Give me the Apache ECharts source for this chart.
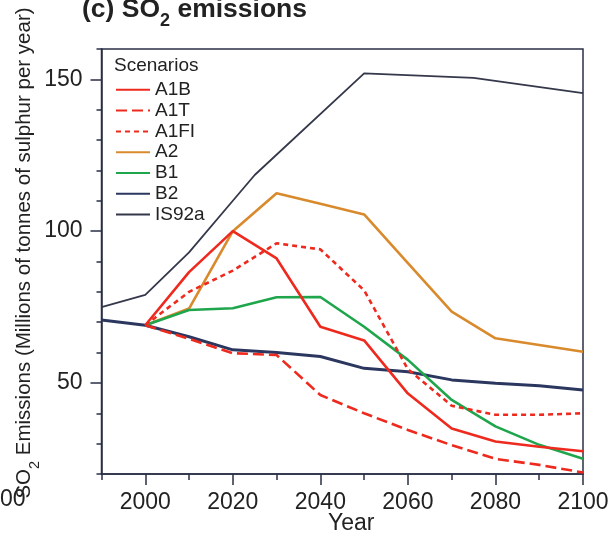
<!DOCTYPE html>
<html>
<head>
<meta charset="utf-8">
<script src="https://cdn.jsdelivr.net/npm/echarts@6/dist/echarts.min.js"></script>
<style>
html,body{margin:0;padding:0;background:#fff;}
#chart{width:613px;height:535px;}
</style>
</head>
<body>
<div id="chart"></div>
<script>
// ---- data ----
var scenarioNames = ['A1B', 'A1T', 'A1FI', 'A2', 'B1', 'B2', 'IS92a'];
var yearsSRES = [2000, 2010, 2020, 2030, 2040, 2050, 2060, 2070, 2080, 2090, 2100];
var yearsB2 = [1990, 2000, 2010, 2020, 2030, 2040, 2050, 2060, 2070, 2080, 2090, 2100];
var yearsIS92a = [1990, 2000, 2010, 2020, 2025, 2050, 2075, 2100];

var valA1B  = [69, 86.5, 100, 91, 68.5, 64, 46.5, 35, 30.7, 29, 27.5];
var valA1T  = [69, 64.5, 59.8, 59.2, 46, 40, 34.5, 29.5, 25, 23, 20.5];
var valA1FI = [69, 80, 87, 96, 94, 80.5, 54.5, 42.5, 39.5, 39.5, 40];
var valA2   = [69, 74.5, 100, 112.5, 109, 105.5, 89.5, 73.5, 64.7, 62.5, 60.3];
var valB1   = [69, 74, 74.6, 78.2, 78.3, 68.5, 57.6, 44.4, 35.7, 29.6, 25];
var valB2   = [70.7, 69, 65.2, 60.9, 60, 58.7, 54.8, 53.7, 51, 49.9, 49.1, 47.7];
var valIS92a = [75, 79, 93, 110, 118.5, 152, 150.5, 145.5];

var xMajorTicks = [2000, 2020, 2040, 2060, 2080, 2100];
var yMajorTicks = [50, 100, 150];

function zip(xs, ys) { return xs.map(function (x, i) { return [x, ys[i]]; }); }

var RED = '#ee2a1f', ORANGE = '#d88a2c', GREEN = '#1fa64c', NAVY = '#2c3760', DARK = '#34384a';
var AXIS = '#2a2f45';
var FONT = 'Liberation Sans, Arial, sans-serif';

function line(name, xs, ys, color, width, type) {
  return {
    name: name, type: 'line', data: zip(xs, ys), symbol: 'none',
    lineStyle: { color: color, width: width, type: type || 'solid' },
    itemStyle: { color: color }
  };
}

var chart = echarts.init(document.getElementById('chart'), null, { renderer: 'canvas' });
chart.setOption({
  animation: false,
  backgroundColor: '#fff',
  textStyle: { fontFamily: FONT },
  grid: { left: 101.5, right: 30, top: 49, bottom: 61, show: true, borderColor: AXIS, borderWidth: 1.5, outerBoundsMode: 'none', containLabel: false },
  xAxis: [{
    type: 'value', min: 1990, max: 2100, interval: 10, position: 'bottom',
    name: 'Year', nameLocation: 'middle', nameGap: 38, nameMoveOverlap: false,
    nameTextStyle: { fontSize: 23, color: '#222', padding: [0, 0, 0, 18] },
    axisLine: { show: true, onZero: false, lineStyle: { color: AXIS, width: 1.5 } },
    axisTick: { show: true, customValues: xMajorTicks, length: 11, lineStyle: { color: AXIS, width: 1.5 } },
    axisLabel: { customValues: xMajorTicks, fontSize: 23, color: '#222', margin: 17, formatter: function (v) { return String(v); } },
    splitLine: { show: false }
  }, {
    type: 'value', min: 1990, max: 2100, interval: 10, position: 'bottom',
    axisLine: { show: false, onZero: false },
    axisTick: { show: true, length: 6, lineStyle: { color: AXIS, width: 1.5 } },
    axisLabel: { show: false },
    splitLine: { show: false }
  }],
  yAxis: [{
    type: 'value', min: 20, max: 160, interval: 10, position: 'left',
    axisLine: { show: true, onZero: false, lineStyle: { color: AXIS, width: 1.5 } },
    axisTick: { show: true, customValues: yMajorTicks, length: 11, lineStyle: { color: AXIS, width: 1.5 } },
    axisLabel: { customValues: yMajorTicks, fontSize: 23, color: '#222', margin: 19 },
    splitLine: { show: false }
  }, {
    type: 'value', min: 20, max: 160, interval: 10, position: 'left',
    axisLine: { show: false, onZero: false },
    axisTick: { show: true, length: 5, lineStyle: { color: AXIS, width: 1.5 } },
    axisLabel: { show: false },
    splitLine: { show: false }
  }],
  legend: {
    data: scenarioNames, orient: 'vertical', left: 115, top: 80.3, padding: 0,
    itemWidth: 34, itemHeight: 14, itemGap: 1.8,
    itemStyle: { opacity: 0 },
    textStyle: { fontSize: 19, color: '#222' }
  },
  graphic: [
    { type: 'text', left: 114, top: 56.5, style: { text: 'Scenarios', fontSize: 19, fill: '#222', fontFamily: FONT } },
    { type: 'text', x: 82, y: -4, style: {
        text: '{a|(c) SO}{s|2}{a| emissions}', verticalAlign: 'top', align: 'left',
        rich: {
          a: { fontSize: 26.5, fontWeight: 'bold', lineHeight: 34, verticalAlign: 'top', fill: '#222', fontFamily: FONT },
          s: { fontSize: 18, fontWeight: 'bold', lineHeight: 18, verticalAlign: 'bottom', fill: '#222', fontFamily: FONT }
        } } },
    { type: 'text', x: 28, y: 253, rotation: Math.PI / 2, style: {
        text: '{a|SO}{s|2}{a| Emissions (Millions of tonnes of sulphur per year)}', align: 'center', verticalAlign: 'middle',
        rich: {
          a: { fontSize: 20.5, lineHeight: 28, verticalAlign: 'top', fill: '#222', fontFamily: FONT },
          s: { fontSize: 14.5, lineHeight: 14.5, verticalAlign: 'bottom', fill: '#222', fontFamily: FONT }
        } } },
    { type: 'text', x: 0, y: 488, style: { text: '00', fontSize: 23, fill: '#222', fontFamily: FONT } }
  ],
  series: [
    line('IS92a', yearsIS92a, valIS92a, DARK, 1.8),
    line('B2', yearsB2, valB2, NAVY, 3),
    line('A2', yearsSRES, valA2, ORANGE, 2.6),
    line('B1', yearsSRES, valB1, GREEN, 2.6),
    line('A1FI', yearsSRES, valA1FI, RED, 2.6, [5, 4]),
    line('A1T', yearsSRES, valA1T, RED, 2.6, [11, 5]),
    line('A1B', yearsSRES, valA1B, RED, 2.6)
  ]
});
</script>
</body>
</html>
